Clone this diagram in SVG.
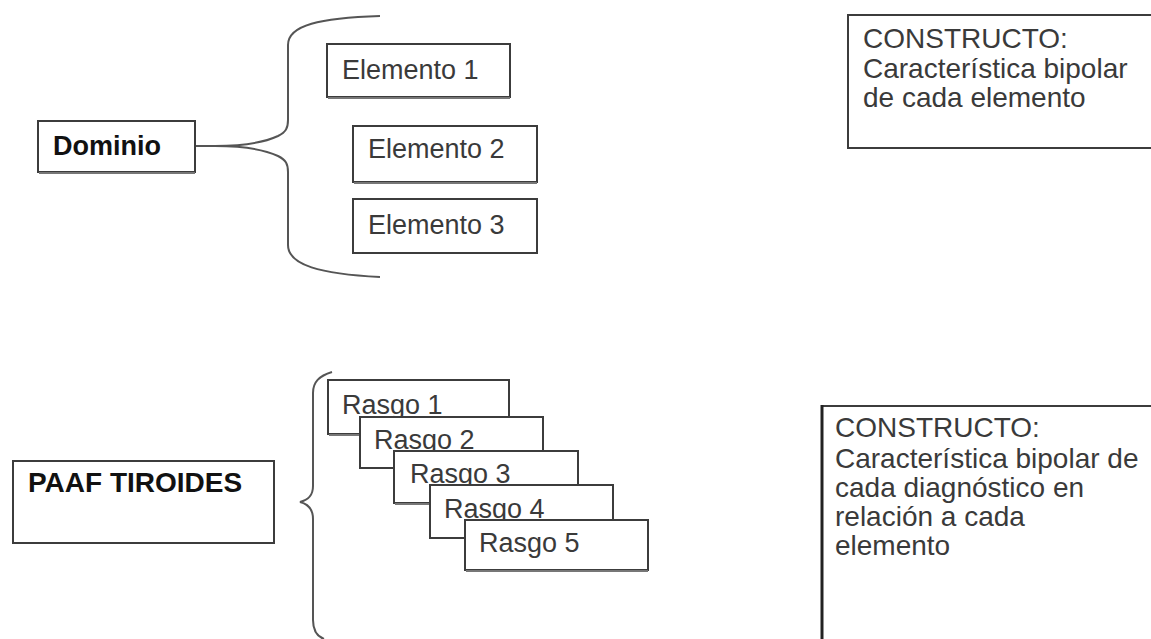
<svg xmlns="http://www.w3.org/2000/svg" width="1151" height="639" viewBox="0 0 1151 639">
<style>
.box{fill:#fff;stroke:#3c3c3c;stroke-width:2}
.sh{stroke:#777;stroke-width:2}
.t{font-family:"Liberation Sans",Arial,sans-serif;font-size:27px;fill:#3a3a3a}
.c{font-family:"Liberation Sans",Arial,sans-serif;font-size:28px;fill:#3a3a3a}
.b{font-family:"Liberation Sans",Arial,sans-serif;font-size:27px;font-weight:bold;fill:#111}
.br{fill:none;stroke:#555;stroke-width:2}
</style>
<rect width="1151" height="639" fill="#fff"/>
<g id="connectors">
<path class="br" d="M195,146 L215,146 C245,146 265,142 278,136 C286,132 288,128 288,120 L288,45 C288,25 320,18 380,16"/>
<path class="br" d="M215,146 C245,146 265,150 278,156 C286,160 288,164 288,172 L288,245 C288,265 320,274 380,277"/>
<path class="br" d="M332,372 C319,376 313,382 313,393 L313,486 C313,496 308,500 300,502 C308,504 313,509 313,519 L313,620 C313,630 316,636 324,639"/>
</g>
<g id="dominio"><rect class="box" x="38" y="121" width="157" height="51"/><line class="sh" x1="39" y1="173" x2="195" y2="173"/><text class="b" x="53" y="155">Dominio</text></g>
<g id="elemento1"><rect class="box" x="327" y="44" width="183" height="53"/><line class="sh" x1="328" y1="98" x2="510" y2="98"/><text class="t" x="342" y="79">Elemento 1</text></g>
<g id="elemento2"><rect class="box" x="353" y="126" width="184" height="56"/><line class="sh" x1="354" y1="183" x2="537" y2="183"/><text class="t" x="368" y="158">Elemento 2</text></g>
<g id="elemento3"><rect class="box" x="353" y="199" width="184" height="54"/><text class="t" x="368" y="234">Elemento 3</text></g>
<g id="constructo1"><rect class="box" x="848" y="15" width="320" height="133"/>
<text class="c" x="863" y="48">CONSTRUCTO:</text><text class="c" x="863" y="78">Característica bipolar</text><text class="c" x="863" y="107">de cada elemento</text></g>
<g id="paaf"><rect class="box" x="13" y="461" width="261" height="82"/><text class="b" x="28" y="492" style="font-size:28px">PAAF TIROIDES</text></g>
<g id="rasgo1"><rect class="box" x="328" y="380" width="181" height="54"/><line class="sh" x1="329" y1="435" x2="509" y2="435"/><text class="t" x="342" y="414">Rasgo 1</text></g>
<g id="rasgo2"><rect class="box" x="360" y="417" width="183" height="51"/><text class="t" x="374" y="449">Rasgo 2</text></g>
<g id="rasgo3"><rect class="box" x="394" y="451" width="184" height="52"/><line class="sh" x1="395" y1="504" x2="578" y2="504"/><text class="t" x="410" y="483">Rasgo 3</text></g>
<g id="rasgo4"><rect class="box" x="430" y="485" width="183" height="53"/><text class="t" x="444" y="518">Rasgo 4</text></g>
<g id="rasgo5"><rect class="box" x="465" y="520" width="183" height="50"/><line class="sh" x1="466" y1="571" x2="648" y2="571"/><text class="t" x="479" y="552">Rasgo 5</text></g>
<g id="constructo2"><rect class="box" x="822" y="406" width="340" height="250"/><line x1="822" y1="405" x2="822" y2="639" stroke="#222" stroke-width="3"/>
<text class="c" x="835" y="437">CONSTRUCTO:</text><text class="c" x="835" y="468">Característica bipolar de</text><text class="c" x="835" y="497">cada diagnóstico en</text><text class="c" x="835" y="526">relación a cada</text><text class="c" x="835" y="555">elemento</text></g>
</svg>
